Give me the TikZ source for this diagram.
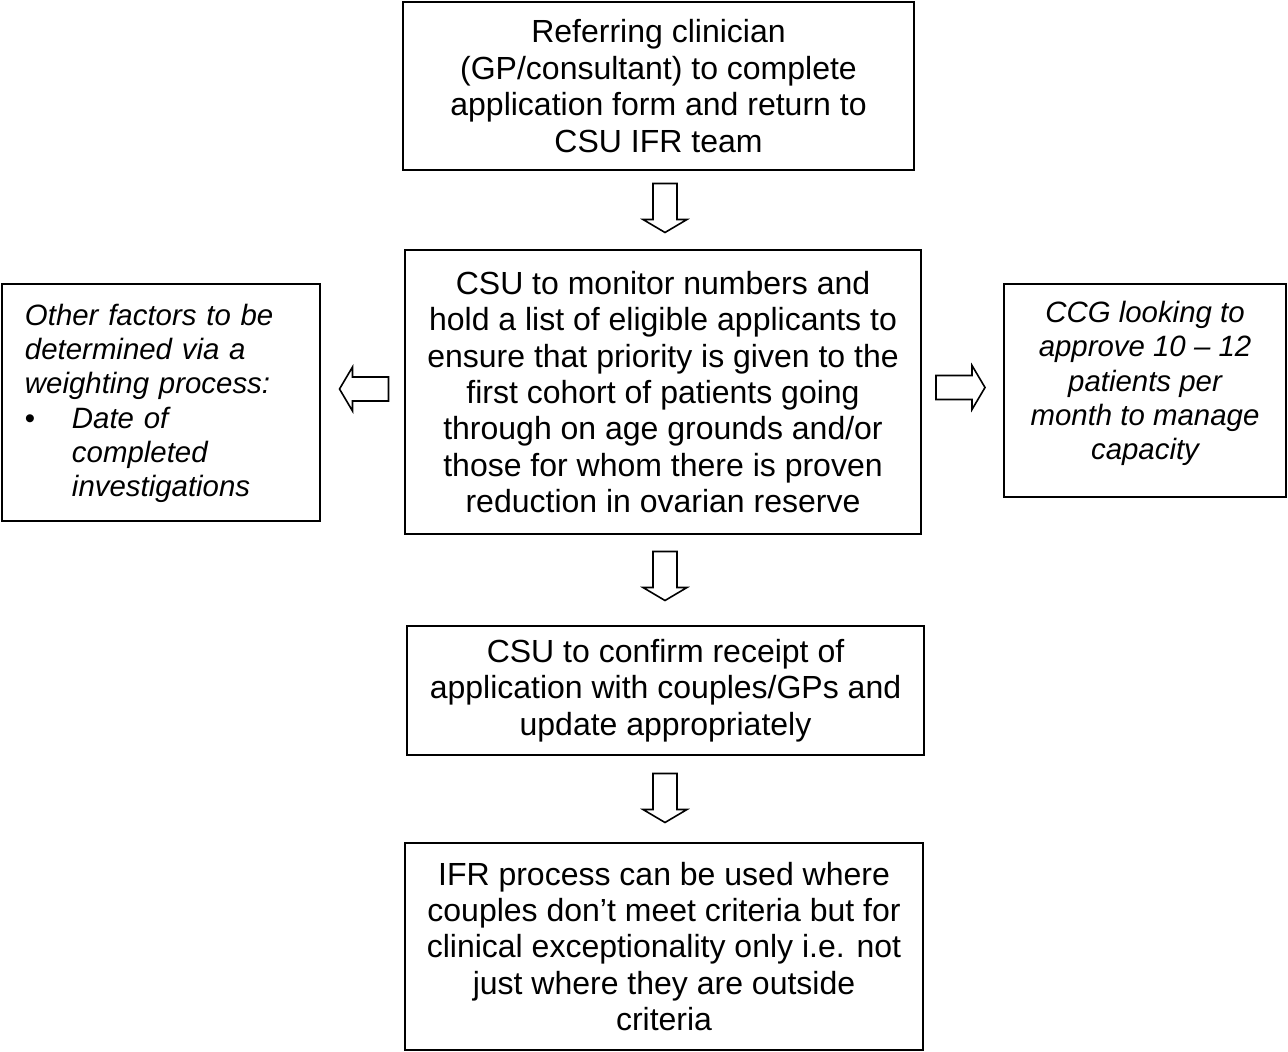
\documentclass[tikz,border=0pt]{standalone}
\usepackage{fontspec}
\setmainfont{Liberation Sans}
\tikzset{
    block/.style = {draw, rectangle, line width=1pt, align=center,
        inner sep=0pt, font=\fontsize{16}{18.2}\selectfont},
    sidebox/.style = {draw, rectangle, line width=1pt,
        inner sep=0pt, font=\fontsize{14.7}{17.1}\selectfont\itshape},
    blockarrow/.pic = {
        \draw [line width=0.8pt, line join=miter]
            (-12.25pt,-6pt) -- (5.75pt,-6pt) -- (5.75pt,-11pt) -- (12.25pt,0pt)
            -- (5.75pt,11pt) -- (5.75pt,6pt) -- (-12.25pt,6pt) -- cycle;
    }
}

\begin{document}
\begin{tikzpicture}[x=0.5pt, y=-0.5pt]
    \useasboundingbox (0,0) rectangle (1288,1052);
    \node [block, minimum width=255.5pt, minimum height=84pt] (referral) at (658.5,86)
        {Referring clinician\\(GP/consultant) to complete\\application form and return to\\CSU IFR team};
    \node [block, minimum width=258pt, minimum height=142pt] (monitor) at (663,392)
        {CSU to monitor numbers and\\hold a list of eligible applicants to\\ensure that priority is given to the\\first cohort of patients going\\through on age grounds and/or\\those for whom there is proven\\reduction in ovarian reserve};
    \node [sidebox, align=left, text width=136pt, inner xsep=11.5pt,
        minimum height=118.5pt, text depth=87.6pt] (factors) at (161,402.5)
        {Other factors to be\\determined via a\\weighting process:\\\makebox[23.5pt][l]{\upshape\textbullet}Date of\\\hspace*{23.5pt}completed\\\hspace*{23.5pt}investigations};
    \node [sidebox, align=center, minimum width=141pt, minimum height=106.5pt,
        text depth=10pt] (capacity) at (1145,390.5)
        {CCG looking to\\approve 10 – 12\\patients per\\month to manage\\capacity};
    \node [block, minimum width=258.5pt, minimum height=64.5pt] (confirm) at (665.5,690.5)
        {CSU to confirm receipt of\\application with couples/GPs and\\update appropriately};
    \node [block, minimum width=259pt, minimum height=103.5pt] (ifr) at (664,946.5)
        {IFR process can be used where\\couples don’t meet criteria but for\\clinical exceptionality only i.e. not\\just where they are outside\\criteria};
    % block arrows between the boxes
    \pic [rotate=-90] at (665,208) {blockarrow};
    \pic [rotate=-90] at (665,576) {blockarrow};
    \pic [rotate=-90] at (665,798) {blockarrow};
    \pic [rotate=180] at (364,389) {blockarrow};
    \pic at (960.5,387.5) {blockarrow};
\end{tikzpicture}
\end{document}
